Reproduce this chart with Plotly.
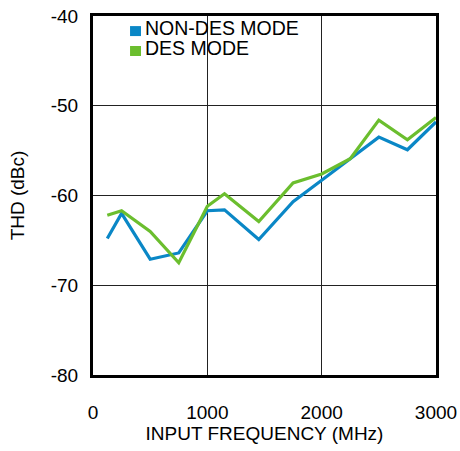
import plotly.graph_objects as go

freq_mhz = [125, 250, 500, 750, 1000, 1150, 1450, 1750, 2000, 2250, 2500, 2750, 3000]
thd_non_des = [-64.8, -62.0, -67.1, -66.4, -61.7, -61.6, -64.9, -60.7, -58.3, -55.9, -53.5, -54.9, -51.8]
thd_des = [-62.2, -61.7, -64.0, -67.5, -61.2, -59.8, -62.9, -58.6, -57.6, -55.9, -51.6, -53.8, -51.3]

series_names = ["NON-DES MODE", "DES MODE"]
series_colors = ["#0A87C6", "#6BBE2E"]
x_ticks = [0, 1000, 2000, 3000]
y_ticks = [-80, -70, -60, -50, -40]

FONT = "Liberation Sans, Arial, sans-serif"

fig = go.Figure()
for name, vals, col in zip(series_names, [thd_non_des, thd_des], series_colors):
    fig.add_trace(go.Scatter(x=freq_mhz, y=vals, mode="lines", name=name,
                             line=dict(color=col, width=3.2), showlegend=False))

# legend drawn as squares + text
text_y = [0.9657, 0.911]
sq_y = [0.958, 0.9025]
for name, col, ty, sy in zip(series_names, series_colors, text_y, sq_y):
    fig.add_shape(type="rect", xref="paper", yref="paper",
                  x0=0.108, x1=0.140, y0=sy - 0.0139, y1=sy + 0.0139,
                  fillcolor=col, line=dict(width=0))
    fig.add_annotation(xref="paper", yref="paper", x=0.1536, y=ty, text=name,
                       showarrow=False, xanchor="left", yanchor="middle",
                       xshift=-2, borderpad=0,
                       font=dict(family=FONT, size=19.5, color="black"))

axis_common = dict(showline=True, linecolor="black", linewidth=3, mirror=True,
                   showgrid=True, gridcolor="#222222", gridwidth=1, zeroline=False,
                   automargin=False,
                   ticks="", tickfont=dict(family=FONT, size=19, color="black"))

fig.update_xaxes(range=[0, 3000], tickvals=x_ticks, ticktext=[str(v) for v in x_ticks],
                 ticklabelstandoff=18,
                 title=dict(text="INPUT FREQUENCY (MHz)", font=dict(family=FONT, size=19, color="black"),
                            standoff=4),
                 **axis_common)
fig.update_yaxes(range=[-80, -40], tickvals=y_ticks, ticktext=[str(v) for v in y_ticks],
                 ticklabelstandoff=8,
                 title=dict(text="THD (dBc)", font=dict(family=FONT, size=19, color="black"),
                            standoff=22),
                 **axis_common)

fig.update_layout(width=460, height=451, margin=dict(l=93, r=24, t=16, b=76),
                  plot_bgcolor="white", paper_bgcolor="white",
                  font=dict(family=FONT, size=19, color="black"))

fig.write_html("out.html", config={"displayModeBar": False},
               post_script="document.body.style.margin='0';document.body.style.padding='0';")
